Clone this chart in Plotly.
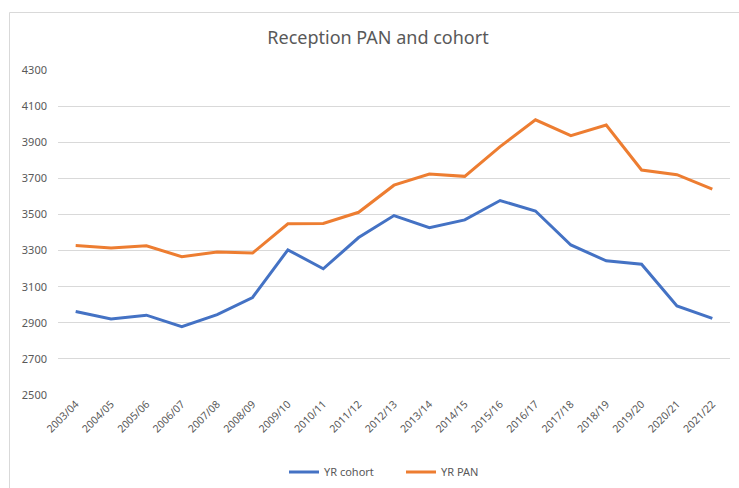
import plotly.graph_objects as go

years = ["2003/04", "2004/05", "2005/06", "2006/07", "2007/08", "2008/09", "2009/10",
         "2010/11", "2011/12", "2012/13", "2013/14", "2014/15", "2015/16", "2016/17",
         "2017/18", "2018/19", "2019/20", "2020/21", "2021/22"]
yr_cohort = [2962, 2921, 2942, 2879, 2945, 3040, 3304, 3199, 3372, 3494, 3427, 3470,
             3577, 3519, 3331, 3243, 3224, 2993, 2924]
yr_pan = [3328, 3314, 3326, 3266, 3292, 3286, 3448, 3450, 3512, 3662, 3724, 3711,
          3876, 4024, 3936, 3995, 3746, 3720, 3640]
y_ticks = [2500, 2700, 2900, 3100, 3300, 3500, 3700, 3900, 4100, 4300]

W, H = 739, 488
L, R, T, B = 58, 9, 70, 93
pw, ph = W - L - R, H - T - B

fig = go.Figure()
fig.add_trace(go.Scatter(x=years, y=yr_cohort, name="YR cohort", mode="lines",
                         line=dict(color="#4472C4", width=3)))
fig.add_trace(go.Scatter(x=years, y=yr_pan, name="YR PAN", mode="lines",
                         line=dict(color="#ED7D31", width=3)))

def px_x(p):
    return (p - L) / pw

def px_y(p):
    return 1 - (p - T) / ph

fig.update_layout(
    width=W, height=H,
    margin=dict(l=L, r=R, t=T, b=B, autoexpand=False),
    paper_bgcolor="white", plot_bgcolor="white",
    font=dict(family="Noto Sans, Liberation Sans, sans-serif", color="#595959"),
    title=dict(text="Reception PAN and cohort", x=px_x(378), xref="paper", xanchor="center",
               y=1 - 38 / H, yanchor="middle",
               font=dict(size=18, color="#595959")),
    xaxis=dict(showgrid=False, tickangle=-45, tickfont=dict(size=10.5, color="#595959"),
               showline=False, ticks="", range=[-0.5, len(years) - 0.5], automargin=False),
    yaxis=dict(range=[2500, 4300], tickvals=y_ticks, showgrid=True, gridcolor="#D9D9D9",
               gridwidth=1, zeroline=False, showline=False, ticks="", automargin=False,
               tickfont=dict(size=11, color="#595959"), ticklabelstandoff=10),
    showlegend=True,
    legend=dict(orientation="h", x=px_x(284), xanchor="left", y=px_y(472), yanchor="middle",
                font=dict(size=11, color="#595959"), itemwidth=30, entrywidth=72,
                entrywidthmode="pixels", bgcolor="rgba(0,0,0,0)"),
    shapes=[dict(type="rect", xref="paper", yref="paper",
                 x0=px_x(9.5), x1=px_x(760), y0=px_y(520), y1=px_y(12.5),
                 line=dict(color="#D9D9D9", width=1), fillcolor="rgba(0,0,0,0)", layer="below")],
)

fig.write_html("out.html", config={"displayModeBar": False},
               post_script="document.body.style.margin='0';document.body.style.overflow='hidden';")
